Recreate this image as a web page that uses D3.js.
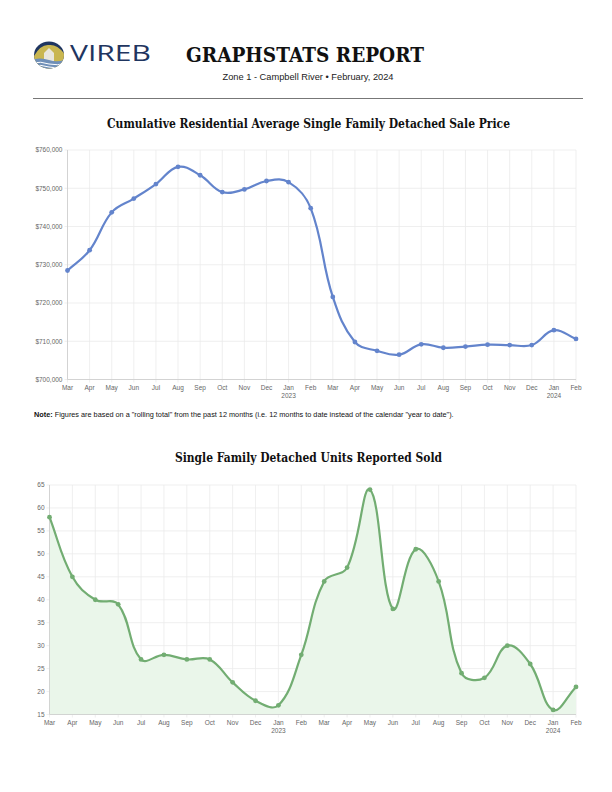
<!DOCTYPE html>
<html>
<head>
<meta charset="utf-8">
<script src="https://cdn.jsdelivr.net/npm/d3@7"></script>
<style>
  body { margin: 0; background: #fff; }
  svg { display: block; }
  .tick-label { font-family: "Liberation Sans", Arial, sans-serif; font-size: 6.5px; fill: #666; }
  .slab { font-family: "DejaVu Serif", serif; font-weight: bold; fill: #111; }
</style>
</head>
<body>
<svg id="page"></svg>
<script>
(function () {
    "use strict";

    var months = ["Mar", "Apr", "May", "Jun", "Jul", "Aug", "Sep", "Oct", "Nov", "Dec", "Jan", "Feb",
                  "Mar", "Apr", "May", "Jun", "Jul", "Aug", "Sep", "Oct", "Nov", "Dec", "Jan", "Feb"];
    var years = {10: "2023", 22: "2024"};

    var avgPrice = [728500, 733800, 743700, 747300, 751100, 755600, 753400, 749000, 749700, 751900, 751600, 744800,
                    721600, 709800, 707500, 706500, 709200, 708300, 708600, 709100, 709000, 709000, 712900, 710600];
    var priceTicks = [700000, 710000, 720000, 730000, 740000, 750000, 760000];

    var unitsSold = [58, 45, 40, 39, 27, 28, 27, 27, 22, 18, 17, 28,
                     44, 47, 64, 38, 51, 44, 24, 23, 30, 26, 16, 21];
    var unitTicks = [15, 20, 25, 30, 35, 40, 45, 50, 55, 60, 65];

    var width = 612,
        height = 792;

    var svg = d3.select("#page")
        .attr("width", width)
        .attr("height", height);

    // spline like the chart lib the original came from (tension 0.4)
    function splineCurve(context) {
        var pts = [];
        return {
            _line: NaN,
            areaStart: function () { this._line = 0; },
            areaEnd: function () { this._line = NaN; },
            lineStart: function () { pts = []; },
            point: function (x, y) { pts.push([+x, +y]); },
            lineEnd: function () {
                var n = pts.length, t = 0.4, cps = [];
                pts.forEach(function (p, i) {
                    var prev = pts[Math.max(0, i - 1)], next = pts[Math.min(n - 1, i + 1)];
                    var d01 = Math.hypot(p[0] - prev[0], p[1] - prev[1]);
                    var d12 = Math.hypot(next[0] - p[0], next[1] - p[1]);
                    var s01 = d01 / (d01 + d12) || 0, s12 = d12 / (d01 + d12) || 0;
                    var fa = t * s01, fb = t * s12;
                    cps.push({
                        inX: p[0] - fa * (next[0] - prev[0]), inY: p[1] - fa * (next[1] - prev[1]),
                        outX: p[0] + fb * (next[0] - prev[0]), outY: p[1] + fb * (next[1] - prev[1])
                    });
                });
                if (this._line) context.lineTo(pts[0][0], pts[0][1]);
                else context.moveTo(pts[0][0], pts[0][1]);
                for (var i = 1; i < n; i++) {
                    context.bezierCurveTo(cps[i - 1].outX, cps[i - 1].outY, cps[i].inX, cps[i].inY, pts[i][0], pts[i][1]);
                }
                if (this._line) context.closePath();
                this._line = 1 - this._line;
            }
        };
    }

    // ---- header ----
    var logo = svg.append("g");
    logo.append("clipPath").attr("id", "emblem")
        .append("ellipse").attr("cx", 49).attr("cy", 55).attr("rx", 15).attr("ry", 13.5);
    var em = logo.append("g").attr("clip-path", "url(#emblem)");
    em.append("rect").attr("x", 30).attr("y", 38).attr("width", 40).attr("height", 35).attr("fill", "#1f3560");
    em.append("path").attr("d", "M33,58 Q40,44 49,45 Q58,44 66,56 L66,70 L33,70 Z").attr("fill", "#c9b650");
    em.append("path").attr("d", "M44,62 L44,53 L49,48 L54,53 L54,62 Z").attr("fill", "#e9e6dc");
    em.append("path").attr("d", "M32,60 Q40,57 49,60 Q58,63 66,59 L66,72 L32,72 Z").attr("fill", "#6f8fb8");
    em.append("path").attr("d", "M32,63 Q41,61 49,64 Q58,66 66,63").attr("fill", "none").attr("stroke", "#fff").attr("stroke-width", 1);
    em.append("path").attr("d", "M32,66.5 Q41,64 49,67 Q58,69.5 66,66").attr("fill", "none").attr("stroke", "#fff").attr("stroke-width", 1);
    logo.append("text")
        .attr("x", 70).attr("y", 61)
        .attr("textLength", 81).attr("lengthAdjust", "spacingAndGlyphs")
        .style("font-family", "'Open Sans', sans-serif").style("font-size", "21px").style("font-weight", 400)
        .style("fill", "#1f3560")
        .text("VIREB");

    svg.append("text").attr("class", "slab")
        .attr("x", 186).attr("y", 62)
        .attr("textLength", 238).attr("lengthAdjust", "spacingAndGlyphs")
        .style("font-size", "20px")
        .text("GRAPHSTATS REPORT");

    svg.append("text")
        .attr("x", 308).attr("y", 80).attr("text-anchor", "middle")
        .attr("textLength", 171).attr("lengthAdjust", "spacingAndGlyphs")
        .style("font-family", "'Liberation Sans', Arial, sans-serif").style("font-size", "9px").style("fill", "#222")
        .text("Zone 1 - Campbell River  \u2022  February, 2024");

    svg.append("line")
        .attr("x1", 33).attr("x2", 583).attr("y1", 98.5).attr("y2", 98.5)
        .attr("stroke", "#777").attr("stroke-width", 1);

    // ---- chart helper ----
    function drawChart(opt) {
        var x = d3.scalePoint().domain(d3.range(months.length)).range([opt.left, opt.right]);
        var y = d3.scaleLinear().domain(opt.domain).range([opt.bottom, opt.top]);
        var g = svg.append("g");

        g.append("text").attr("class", "slab")
            .attr("x", opt.titleX).attr("y", opt.titleY)
            .attr("textLength", opt.titleW).attr("lengthAdjust", "spacingAndGlyphs")
            .style("font-size", "13px")
            .text(opt.title);

        // grid
        g.selectAll("line.vgrid").data(d3.range(months.length)).enter().append("line")
            .attr("x1", function (d) { return x(d); }).attr("x2", function (d) { return x(d); })
            .attr("y1", opt.top).attr("y2", opt.bottom + 3)
            .attr("stroke", "#ebebeb").attr("stroke-width", 0.8);
        g.selectAll("line.hgrid").data(opt.ticks).enter().append("line")
            .attr("x1", opt.left - 3).attr("x2", opt.right)
            .attr("y1", function (d) { return y(d); }).attr("y2", function (d) { return y(d); })
            .attr("stroke", "#ebebeb").attr("stroke-width", 0.8);

        if (opt.fill) {
            var area = d3.area()
                .x(function (d, i) { return x(i); })
                .y0(opt.bottom)
                .y1(function (d) { return y(d); })
                .curve(splineCurve);
            g.append("path").datum(opt.values).attr("d", area).attr("fill", opt.fill);
        }

        // axes lines
        g.append("line").attr("x1", opt.left).attr("x2", opt.left).attr("y1", opt.top).attr("y2", opt.bottom)
            .attr("stroke", "#ccc").attr("stroke-width", 0.8);
        g.append("line").attr("x1", opt.left).attr("x2", opt.right).attr("y1", opt.bottom).attr("y2", opt.bottom)
            .attr("stroke", "#ccc").attr("stroke-width", 0.8);

        // tick labels
        g.selectAll("text.ylab").data(opt.ticks).enter().append("text")
            .attr("class", "tick-label")
            .attr("x", opt.left - 5).attr("y", function (d) { return y(d) + 2.3; })
            .attr("text-anchor", "end")
            .text(opt.format);
        g.selectAll("text.xlab").data(months).enter().append("text")
            .attr("class", "tick-label")
            .attr("x", function (d, i) { return x(i); }).attr("y", opt.bottom + 10)
            .attr("text-anchor", "middle")
            .text(function (d) { return d; });
        g.selectAll("text.yr").data(Object.keys(years)).enter().append("text")
            .attr("class", "tick-label")
            .attr("x", function (d) { return x(+d); }).attr("y", opt.bottom + 18)
            .attr("text-anchor", "middle")
            .text(function (d) { return years[d]; });

        var line = d3.line()
            .x(function (d, i) { return x(i); })
            .y(function (d) { return y(d); })
            .curve(splineCurve);
        g.append("path").datum(opt.values).attr("d", line)
            .attr("fill", "none").attr("stroke", opt.color).attr("stroke-width", 2.2);

        g.selectAll("circle").data(opt.values).enter().append("circle")
            .attr("cx", function (d, i) { return x(i); })
            .attr("cy", function (d) { return y(d); })
            .attr("r", 2.4)
            .attr("fill", opt.color);
    }

    drawChart({
        title: "Cumulative Residential Average Single Family Detached Sale Price",
        titleX: 107, titleY: 128, titleW: 403,
        left: 67.5, right: 576, top: 150, bottom: 379.5,
        domain: [700000, 760000], ticks: priceTicks,
        format: function (d) { return "$" + d3.format(",")(d); },
        values: avgPrice, color: "#6384cc"
    });

    // note
    var note = svg.append("text")
        .attr("x", 34).attr("y", 417)
        .style("font-family", "'Liberation Sans', Arial, sans-serif").style("font-size", "7.3px").style("fill", "#111");
    note.append("tspan").style("font-weight", "bold").text("Note:");
    note.append("tspan").text(" Figures are based on a \"rolling total\" from the past 12 months (i.e. 12 months to date instead of the calendar \"year to date\").");

    drawChart({
        title: "Single Family Detached Units Reported Sold",
        titleX: 175, titleY: 462, titleW: 267,
        left: 49.5, right: 576, top: 485, bottom: 714.5,
        domain: [15, 65], ticks: unitTicks,
        format: function (d) { return d; },
        values: unitsSold, color: "#72ad72", fill: "#eaf6ea"
    });
})();
</script>
</body>
</html>
